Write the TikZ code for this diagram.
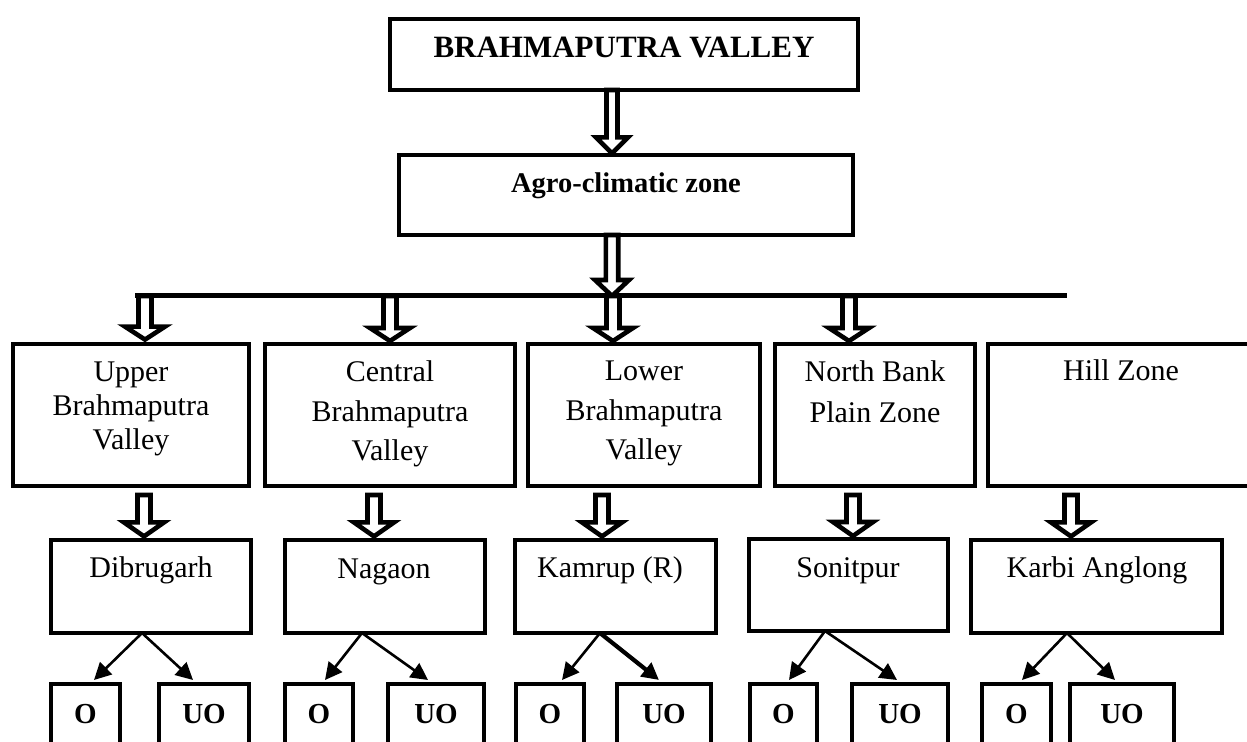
\documentclass[tikz,border=0pt]{standalone}
\usepackage{fontspec}
\setmainfont{Liberation Serif}
\usetikzlibrary{calc,arrows.meta}
% block (hollow) arrow: #1 x source, #2 y start, #3 y end (tip), #4 half shaft, #5 half head, #6 head length
\newcommand\barrow[6]{\draw[blk] let \p1=#1, \p2=#2, \p3=#3 in
  (\x1-#4,\y2) -- (\x1-#4,\y3+#6) -- (\x1-#5,\y3+#6) -- (\x1,\y3) -- (\x1+#5,\y3+#6) -- (\x1+#4,\y3+#6) -- (\x1+#4,\y2) -- cycle;}
\newcommand\regtext{\fontsize{15pt}{19.75pt}\selectfont}
\begin{document}
\begin{tikzpicture}[x=0.5pt,y=-0.5pt,
  box/.style={draw, line width=2.1pt, inner sep=0pt, outer sep=0pt},
  txt/.style={inner sep=0pt, anchor=base, font=\regtext},
  boldtxt/.style={inner sep=0pt, anchor=base, font=\fontsize{14.5pt}{17pt}\selectfont\bfseries},
  blk/.style={draw, line width=2.3pt, fill=white, line join=miter},
  hline/.style={line width=2.5pt},
  split/.style={line width=1.3pt, -{Triangle[length=8.5pt,width=8.5pt]}},
  splitthick/.style={line width=2.1pt, -{Triangle[length=8.5pt,width=8.5pt]}}]
\useasboundingbox (0,0) rectangle (1247,742);
\fill[white] (0,0) rectangle (1247,742);
\clip (0,0) rectangle (1247,742);

% level 1 and 2
\node[box, minimum width=234pt, minimum height=35.5pt] (top) at (624,54.5) {};
\node[inner sep=0pt, anchor=base, font=\fontsize{15.5pt}{18pt}\selectfont\bfseries] (ttop) at (624,58) {BRAHMAPUTRA VALLEY};
\node[box, minimum width=227pt, minimum height=40pt] (agro) at (626,195) {};
\node[inner sep=0pt, anchor=base, font=\fontsize{14.25pt}{17pt}\selectfont\bfseries] (tagro) at (626,193) {Agro-climatic zone};

\coordinate (hl) at (135,296);
\coordinate (hr) at (1067,296);

% level 3
\node[box, minimum width=118pt, minimum height=71pt] (upper) at (131,415) {};
\node[box, minimum width=125pt, minimum height=71pt] (central) at (390,415) {};
\node[box, minimum width=116pt, minimum height=71pt] (lower) at (644,415) {};
\node[box, minimum width=100pt, minimum height=71pt] (north) at (875,415) {};
\node[box, minimum width=136pt, minimum height=71pt] (hill) at (1124,415) {};

\node[txt] (tupper) at (131,382) {\fontsize{15pt}{17pt}\selectfont\begin{tabular}[t]{@{}c@{}}Upper\\Brahmaputra\\Valley\end{tabular}};
\node[txt] (tcentral) at (390,382) {\begin{tabular}[t]{@{}c@{}}Central\\Brahmaputra\\Valley\end{tabular}};
\node[txt] (tlower) at (644,381) {\begin{tabular}[t]{@{}c@{}}Lower\\Brahmaputra\\Valley\end{tabular}};
\node[txt] (tnorth) at (875,382) {\fontsize{15pt}{20.5pt}\selectfont\begin{tabular}[t]{@{}c@{}}North Bank\\Plain Zone\end{tabular}};
\node[txt] (thill) at (1121,381) {Hill Zone};

% level 4
\node[box, minimum width=100pt, minimum height=46.5pt] (dib) at (151,586.5) {};
\node[box, minimum width=100pt, minimum height=46.5pt] (nag) at (385,586.5) {};
\node[box, minimum width=100.5pt, minimum height=46.5pt] (kam) at (615.5,586.5) {};
\node[box, minimum width=99.5pt, minimum height=46pt] (son) at (848.5,585) {};
\node[box, minimum width=125.5pt, minimum height=46.5pt] (kar) at (1096.5,586.5) {};

\node[txt] (tdib) at (151,578) {Dibrugarh};
\node[txt] (tnag) at (384,579) {Nagaon};
\node[txt] (tkam) at (610,578) {Kamrup (R)};
\node[txt] (tson) at (848,577) {Sonitpur};
\node[txt] (tkar) at (1097,578) {Karbi Anglong};

% level 5
\node[box, minimum width=34.5pt, minimum height=50pt] (o1) at (85.5,734) {};
\node[box, minimum width=45pt, minimum height=50pt] (uo1) at (204,734) {};
\node[box, minimum width=34pt, minimum height=50pt] (o2) at (319,734) {};
\node[box, minimum width=48pt, minimum height=50pt] (uo2) at (436,734) {};
\node[box, minimum width=34pt, minimum height=50pt] (o3) at (550,734) {};
\node[box, minimum width=47pt, minimum height=50pt] (uo3) at (664,734) {};
\node[box, minimum width=33.5pt, minimum height=50pt] (o4) at (783.5,734) {};
\node[box, minimum width=48pt, minimum height=50pt] (uo4) at (900,734) {};
\node[box, minimum width=34.5pt, minimum height=50pt] (o5) at (1016.5,734) {};
\node[box, minimum width=52pt, minimum height=50pt] (uo5) at (1122,734) {};

\node[boldtxt] (to1) at (85.5,723) {O};
\node[boldtxt] (tuo1) at (204,723) {UO};
\node[boldtxt] (to2) at (319,723) {O};
\node[boldtxt] (tuo2) at (436,723) {UO};
\node[boldtxt] (to3) at (550,723) {O};
\node[boldtxt] (tuo3) at (664,723) {UO};
\node[boldtxt] (to4) at (783.5,723) {O};
\node[boldtxt] (tuo4) at (900,723) {UO};
\node[boldtxt] (to5) at (1016.5,723) {O};
\node[boldtxt] (tuo5) at (1122,723) {UO};

% block arrows
\barrow{([xshift=-6pt]top.south)}{(top.south)}{([yshift=0.8pt]agro.north)}{2.75pt}{8pt}{8pt}
\barrow{([xshift=-7pt]agro.south)}{(agro.south)}{(hl)}{3.1pt}{8.5pt}{8pt}

\barrow{([xshift=7pt]upper.north)}{(hl)}{([yshift=2.2pt]upper.north)}{3.25pt}{10pt}{6.5pt}
\barrow{(central.north)}{(hl)}{([yshift=1.5pt]central.north)}{3.25pt}{10pt}{6.5pt}
\barrow{([xshift=-15.5pt]lower.north)}{(hl)}{([yshift=1.5pt]lower.north)}{3.25pt}{10pt}{6.5pt}
\barrow{([xshift=-13pt]north.north)}{(hl)}{([yshift=1.5pt]north.north)}{3.25pt}{10pt}{6.5pt}

\barrow{([xshift=6.5pt]upper.south)}{([yshift=-4.5pt]upper.south)}{([yshift=1.8pt]dib.north)}{3.25pt}{10pt}{7pt}
\barrow{([xshift=-8pt]central.south)}{([yshift=-4.5pt]central.south)}{([yshift=1.8pt]nag.north)}{3.25pt}{10pt}{7pt}
\barrow{([xshift=-21pt]lower.south)}{([yshift=-4.5pt]lower.south)}{([yshift=1.8pt]kam.north)}{3.25pt}{10pt}{7pt}
\barrow{([xshift=-11pt]north.south)}{([yshift=-4.5pt]north.south)}{([yshift=1.5pt]son.north)}{3.25pt}{10pt}{7pt}
\barrow{([xshift=-26.5pt]hill.south)}{([yshift=-4.5pt]hill.south)}{([yshift=1.8pt]kar.north)}{3.25pt}{10pt}{7pt}

\draw[hline] (hl) -- (hr);

% split arrows
\draw[split] ([xshift=-4.5pt]dib.south) -- ([xshift=4.25pt,yshift=2pt]o1.north);
\draw[split] ([xshift=-4.5pt]dib.south) -- ([xshift=-5.5pt,yshift=2pt]uo1.north);
\draw[split] ([xshift=-11.5pt]nag.south) -- ([xshift=3pt,yshift=2pt]o2.north);
\draw[split] ([xshift=-11.5pt]nag.south) -- ([xshift=-4pt,yshift=2pt]uo2.north);
\draw[split] ([xshift=-7.75pt]kam.south) -- ([xshift=6pt,yshift=2pt]o3.north);
\draw[splitthick] ([xshift=-7.75pt]kam.south) -- ([xshift=-2.5pt,yshift=2pt]uo3.north);
\draw[split] ([xshift=-11.75pt]son.south) -- ([xshift=2.75pt,yshift=2pt]o4.north);
\draw[split] ([xshift=-11.75pt]son.south) -- ([xshift=-1.5pt,yshift=2pt]uo4.north);
\draw[split] ([xshift=-14.75pt]kar.south) -- ([xshift=2.75pt,yshift=2pt]o5.north);
\draw[split] ([xshift=-14.75pt]kar.south) -- ([xshift=-3.5pt,yshift=2pt]uo5.north);
\end{tikzpicture}
\end{document}
